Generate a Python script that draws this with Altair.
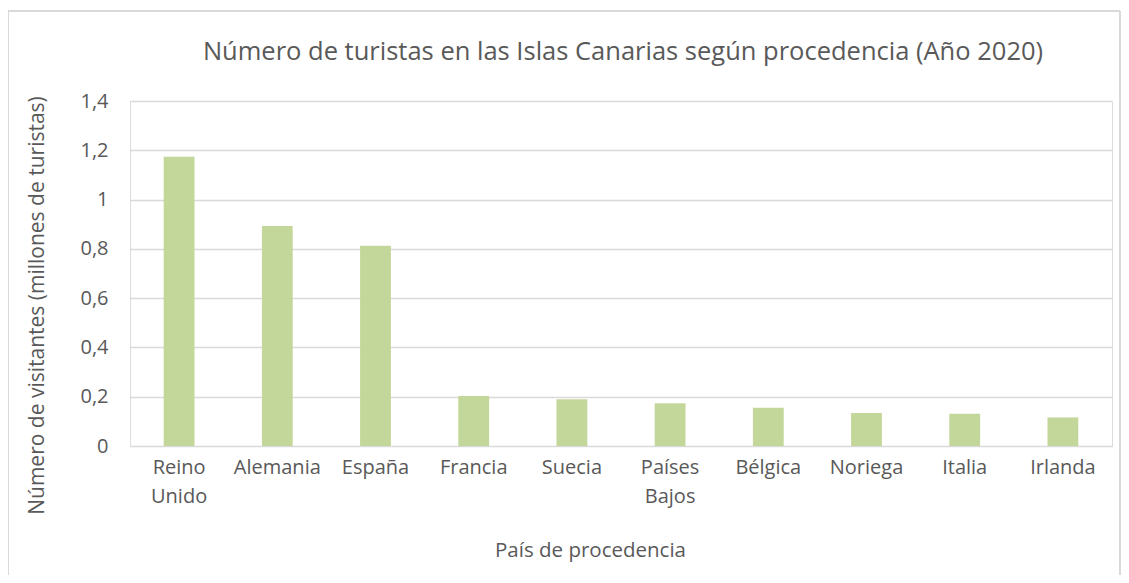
import altair as alt
import pandas as pd

paises = ["Reino Unido", "Alemania", "España", "Francia", "Suecia",
          "Países Bajos", "Bélgica", "Noriega", "Italia", "Irlanda"]
turistas = [1.174, 0.893, 0.813, 0.203, 0.190, 0.173, 0.155, 0.134, 0.131, 0.116]
y_ticks = [0, 0.2, 0.4, 0.6, 0.8, 1.0, 1.2, 1.4]
titulo = "Número de turistas en las Islas Canarias según procedencia (Año 2020)"

df = pd.DataFrame({"pais": paises, "turistas": turistas})

FONT = "Open Sans"
GREY = "#595959"
FS = 20

bars = alt.Chart(df).mark_bar(color="#c4d79b").encode(
    x=alt.X("pais:N", sort=paises,
            scale=alt.Scale(paddingInner=0.686, paddingOuter=0.343),
            axis=alt.Axis(title="País de procedencia", labelAngle=0,
                          labelExpr="split(datum.label, ' ')",
                          labelFontSize=FS, labelColor=GREY, labelFont=FONT,
                          labelPadding=11, labelLineHeight=29,
                          ticks=False, domain=False,
                          titleFontSize=20.5, titleColor=GREY, titleFont=FONT,
                          titleFontWeight="normal", titleX=460, titleY=94)),
    y=alt.Y("turistas:Q",
            scale=alt.Scale(domain=[0, 1.4]),
            axis=alt.Axis(title="Número de visitantes (millones de turistas)",
                          values=y_ticks, format="~g",
                          labelExpr="replace(datum.label, '.', ',')",
                          labelFontSize=FS, labelColor=GREY, labelFont=FONT,
                          labelPadding=22, ticks=False, domain=False,
                          gridColor="#d9d9d9", gridWidth=1.3,
                          titleFontSize=21, titleColor=GREY, titleFont=FONT,
                          titleFontWeight="normal", titleX=-93, titleY=204,
                          titleAlign="center", titleBaseline="middle")),
)

border = alt.Chart(df).mark_rect(fill=None, stroke="#d9d9d9", strokeWidth=1).encode(
    x=alt.value(-122), x2=alt.value(990), y=alt.value(-90), y2=alt.value(475)
)

title_mark = alt.Chart(pd.DataFrame({"t": [titulo]})).mark_text(
    font=FONT, fontSize=25.5, color=GREY, align="center", baseline="middle"
).encode(text="t:N", x=alt.value(493), y=alt.value(-49))

chart = alt.layer(border, bars, title_mark).properties(
    width=982, height=345,
    autosize=alt.AutoSizeParams(type="none"),
    padding={"left": 122, "top": 93, "right": 9, "bottom": 129},
).configure_view(stroke=None).configure(background="white")

chart.save("out.html", embed_options={"renderer": "svg", "actions": False})
